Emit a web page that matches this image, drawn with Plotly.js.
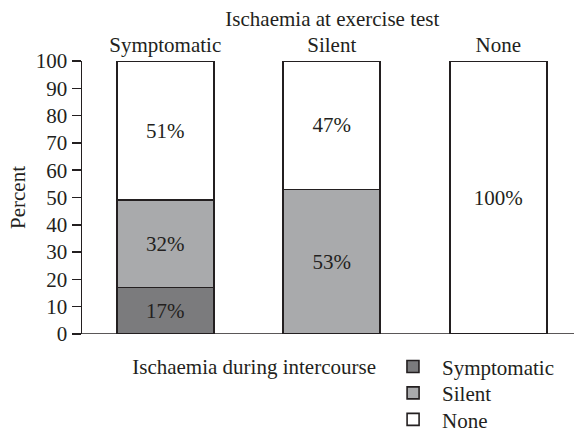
<!DOCTYPE html>
<html><head><meta charset="utf-8">
<script src="https://cdn.plot.ly/plotly-3.0.1.min.js"></script>
<style>body{margin:0;padding:0;background:#fff}#chart{width:574px;height:433px}</style>
</head><body><div id="chart"></div>
<script>
const categories = ["Symptomatic", "Silent", "None"];
const symptomatic = [17, 0, 0];
const silent = [32, 53, 0];
const none = [51, 47, 100];
const seriesNames = ["Symptomatic", "Silent", "None"];
const yTicks = [0,10,20,30,40,50,60,70,80,90,100];

const FONT = "'Liberation Serif', 'Times New Roman', serif";
const INK = "#231f20";
const FS = 21;
const colors = ["#7b7b7d", "#a9aaac", "#ffffff"];
const series = [symptomatic, silent, none];
const legendIds = ["legend", "legend2", "legend3"];

const traces = series.map((vals, i) => ({
  type: "bar",
  name: seriesNames[i],
  x: categories,
  y: vals,
  width: 0.583,
  marker: {color: colors[i], line: {color: INK, width: 1.6}},
  text: vals.map(v => v > 0 ? v + "%" : ""),
  textposition: "inside",
  insidetextanchor: "middle",
  textangle: 0,
  textfont: {family: FONT, size: FS, color: INK},
  hoverinfo: "skip",
  legend: legendIds[i]
}));

const legendBase = {
  xanchor: "left", yanchor: "top", orientation: "v", itemwidth: 48,
  font: {family: FONT, size: FS, color: INK}, bgcolor: "rgba(0,0,0,0)"
};

const layout = {
  width: 574, height: 433,
  margin: {l: 82, r: 0, t: 61, b: 99, autoexpand: false},
  paper_bgcolor: "#fff", plot_bgcolor: "#fff",
  barmode: "stack",
  showlegend: true,
  font: {family: FONT, size: FS, color: INK},
  title: {text: "Ischaemia at exercise test", x: 0.579, xanchor: "center", y: 0.958, yanchor: "middle", font: {family: FONT, size: FS, color: INK}},
  xaxis: {side: "top", range: [-0.5, 2.455], showline: false, ticks: "", showgrid: false, zeroline: false,
          tickfont: {family: FONT, size: FS, color: INK}, ticklabelstandoff: 4, fixedrange: true},
  yaxis: {range: [0, 100], tickvals: yTicks, ticktext: yTicks.map(String), showline: true, linecolor: INK, linewidth: 1.5,
          ticks: "outside", ticklen: 9, tickwidth: 1.5, tickcolor: INK, showgrid: false, zeroline: false,
          tickfont: {family: FONT, size: FS, color: INK},
          title: {text: "Percent", font: {family: FONT, size: FS, color: INK}, standoff: 4}},
  shapes: [{type: "line", xref: "paper", yref: "y", x0: 0, x1: 1, y0: 0, y1: 0, line: {color: INK, width: 1.6}}],
  legend: Object.assign({}, legendBase, {
    x: 0.098, y: -0.045,
    title: {text: "Ischaemia during intercourse", side: "left", font: {family: FONT, size: FS, color: INK}}
  }),
  legend2: Object.assign({}, legendBase, {x: 0.614, y: -0.142}),
  legend3: Object.assign({}, legendBase, {x: 0.614, y: -0.239})
};

Plotly.newPlot("chart", traces, layout, {displayModeBar: false, staticPlot: true});
</script></body></html>
